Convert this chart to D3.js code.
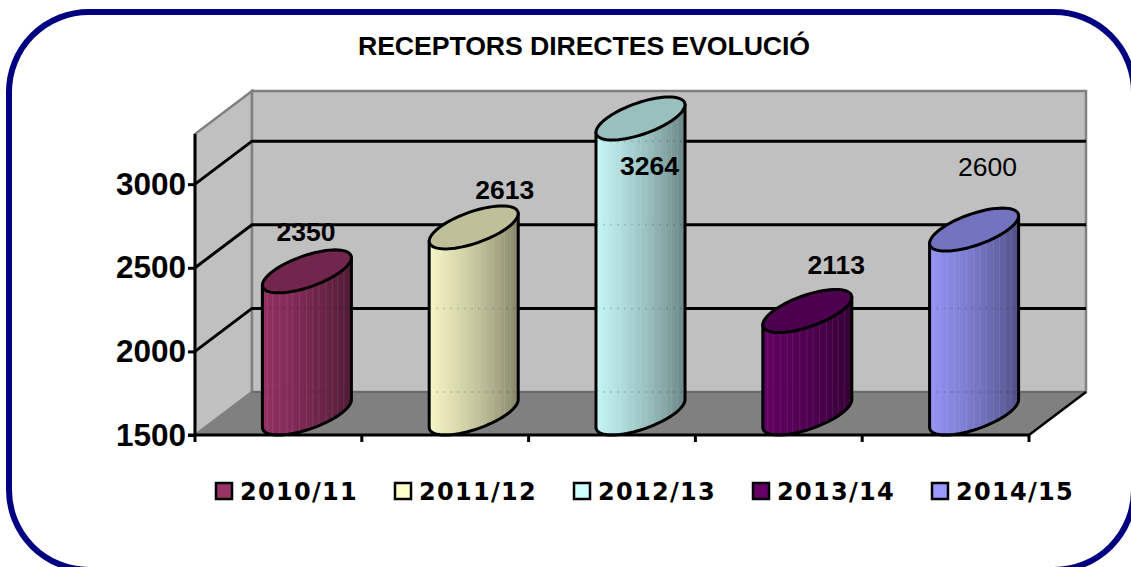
<!DOCTYPE html>
<html>
<head>
<meta charset="utf-8">
<style>
    html, body { margin: 0; padding: 0; background: #fff; overflow: hidden; }
    text { font-family: "Liberation Sans", Arial, sans-serif; fill: #000; }
</style>
</head>
<body>
<script src="https://d3js.org/d3.v7.min.js"></script>
<script>

    var seasons = ["2010/11", "2011/12", "2012/13", "2013/14", "2014/15"];
    var receptors = [2350, 2613, 3264, 2113, 2600];
    var yTicks = [1500, 2000, 2500, 3000];
    var barColors = ["#993366", "#ffffcc", "#ccffff", "#660066", "#9999ff"];

    // the labels were placed by hand in the original, so they don't follow the bars
    var labelShift = [[-1, -9], [31, -6.5], [9, 77.5], [29, -15], [13.5, -32.5]];
    var labelWeight = ["bold", "bold", "bold", "bold", "normal"];

    var width = 1131,
        height = 567,
        baseY = 435,
        depthX = 57,
        depthY = -43;

    var svg = d3.select("body").append("svg")
        .attr("width", width)
        .attr("height", height)
        .style("display", "block");

    var x = d3.scaleBand().domain(seasons).range([195, 1029]).paddingInner(0.59).paddingOuter(0.295);
    var y = d3.scaleLinear().domain([1500, 3300]).range([baseY, 134]);
    var xEdge = d3.scaleLinear().domain([0, seasons.length]).range([195, 1029]);

    // outer frame, runs off the right and bottom of the picture
    svg.append("rect")
        .attr("x", 9).attr("y", 12)
        .attr("width", 1125).attr("height", 558)
        .attr("rx", 80)
        .attr("fill", "#fff")
        .attr("stroke", "#000080")
        .attr("stroke-width", 6);

    svg.append("text")
        .attr("x", 584).attr("y", 55)
        .attr("text-anchor", "middle")
        .style("font-weight", "bold")
        .style("font-size", "26.7px")
        .style("letter-spacing", "-0.1px")
        .text("RECEPTORS DIRECTES EVOLUCIÓ");

    // walls and floor
    var left = 195, right = 1029, top3d = y.range()[1];
    function poly(pts) { return "M" + pts.map(function (p) { return p.join(","); }).join("L") + "Z"; }

    svg.append("path")
        .attr("d", poly([[left, baseY], [left, top3d], [left + depthX, top3d + depthY], [left + depthX, baseY + depthY]]))
        .attr("fill", "#c0c0c0").attr("stroke", "#808080").attr("stroke-width", 2.5);
    svg.append("path")
        .attr("d", poly([[left + depthX, baseY + depthY], [left + depthX, top3d + depthY], [right + depthX, top3d + depthY], [right + depthX, baseY + depthY]]))
        .attr("fill", "#c0c0c0").attr("stroke", "#808080").attr("stroke-width", 2.5);
    svg.append("path")
        .attr("d", poly([[left, baseY], [left + depthX, baseY + depthY], [right + depthX, baseY + depthY], [right, baseY]]))
        .attr("fill", "#808080");
    svg.append("line")
        .attr("x1", left + depthX).attr("y1", baseY + depthY)
        .attr("x2", right + depthX).attr("y2", baseY + depthY)
        .attr("stroke", "#6a6a6a").attr("stroke-width", 2);
    svg.append("line")
        .attr("x1", right).attr("y1", baseY)
        .attr("x2", right + depthX).attr("y2", baseY + depthY)
        .attr("stroke", "#000").attr("stroke-width", 2.5);

    // gridlines go along the side wall and then the back wall
    svg.append("g").selectAll("path")
        .data(yTicks.slice(1))
        .join("path")
        .attr("d", function (d) {
            return "M" + left + "," + y(d) + "L" + (left + depthX) + "," + (y(d) + depthY) + "H" + (right + depthX);
        })
        .attr("fill", "none")
        .attr("stroke", "#000")
        .attr("stroke-width", 3);

    // bars
    var defs = svg.append("defs");
    var shade = function (color, k) {
        return d3.interpolateRgb(color, "#000")(k);
    };
    var shadeStops = [[0, 0.02], [0.06, 0.06], [0.3, 0.14], [0.55, 0.24], [0.8, 0.36], [1, 0.48]];
    var streaks = [0.05, 0.11, 0.19, 0.27, 0.33, 0.41, 0.49, 0.56, 0.63, 0.71, 0.78, 0.84, 0.91];

    function ellipsePoint(cx, cy, w, t) {
        return [cx + w / 2 * Math.cos(t) + depthX / 2 * Math.sin(t),
                cy + depthY / 2 * Math.sin(t)];
    }

    seasons.forEach(function (s, i) {
        var w = x.bandwidth();
        var cx = x(s) + w / 2 + depthX / 2;
        var topY = y(receptors[i]) + depthY / 2;
        var botY = y(1500) + depthY / 2;
        var tExt = Math.atan2(depthX, w);  // where the ellipse is widest
        var halfW = Math.sqrt(w * w + depthX * depthX) / 2;

        var grad = defs.append("linearGradient")
            .attr("id", "bar" + i)
            .attr("gradientUnits", "userSpaceOnUse")
            .attr("x1", cx - halfW).attr("x2", cx + halfW)
            .attr("y1", 0).attr("y2", 0);
        shadeStops.forEach(function (st) {
            grad.append("stop").attr("offset", st[0]).attr("stop-color", shade(barColors[i], st[1]));
        });

        var n = 40;
        var front = d3.range(n + 1).map(function (k) {
            // lower half of the base ellipse, going from right to left
            return ellipsePoint(cx, botY, w, tExt - Math.PI * k / n);
        });
        var topEdge = ellipsePoint(cx, topY, w, tExt);
        var topEdgeL = ellipsePoint(cx, topY, w, tExt + Math.PI);

        var body = "M" + topEdge.join(",") +
            "L" + front.map(function (p) { return p.join(","); }).join("L") +
            "L" + topEdgeL.join(",") + "Z";

        defs.append("clipPath").attr("id", "clip" + i).append("path").attr("d", body);

        var g = svg.append("g");
        g.append("path").attr("d", body).attr("fill", "url(#bar" + i + ")");

        // thin vertical banding of the old renderer
        g.append("g").attr("clip-path", "url(#clip" + i + ")")
            .selectAll("rect").data(streaks).join("rect")
            .attr("x", function (d) { return cx - halfW + d * 2 * halfW; })
            .attr("y", topEdge[1])
            .attr("width", 1)
            .attr("height", y(1500) - topEdge[1])
            .attr("fill", "#fff")
            .attr("opacity", 0.09);

        // faint traces of the gridlines and floor edge inside the bar
        g.append("g").attr("clip-path", "url(#clip" + i + ")")
            .selectAll("line").data(yTicks)
            .join("line")
            .attr("x1", cx - halfW).attr("x2", cx + halfW)
            .attr("y1", function (d) { return y(d) + depthY; })
            .attr("y2", function (d) { return y(d) + depthY; })
            .attr("stroke", "#000")
            .attr("stroke-width", 2)
            .attr("stroke-dasharray", "2 5")
            .attr("opacity", 0.12);

        g.append("path").attr("d", body)
            .attr("fill", "none").attr("stroke", "#000").attr("stroke-width", 3).attr("stroke-linejoin", "round");

        var ring = d3.range(73).map(function (k) { return ellipsePoint(cx, topY, w, k / 72 * 2 * Math.PI); });
        g.append("path")
            .attr("d", d3.line()(ring) + "Z")
            .attr("fill", shade(barColors[i], 0.25))
            .attr("stroke", "#000").attr("stroke-width", 3);
    });

    // axes
    var yAxis = d3.axisLeft(y).tickValues(yTicks).tickSize(7).tickPadding(2).tickFormat(d3.format("d"));
    var gy = svg.append("g").attr("transform", "translate(" + left + ",0)").call(yAxis);
    gy.selectAll(".domain").attr("stroke", "#000").attr("stroke-width", 3).attr("d", "M0," + top3d + "V" + baseY);
    gy.selectAll("line").attr("stroke-width", 3);
    gy.selectAll("text")
        .style("font-family", '"Liberation Sans", Arial, sans-serif')
        .style("font-weight", "bold")
        .style("font-size", "31.5px")
        .attr("fill", "#000");

    svg.append("line")
        .attr("x1", left - 7).attr("y1", baseY)
        .attr("x2", right).attr("y2", baseY)
        .attr("stroke", "#000").attr("stroke-width", 3);
    svg.append("g").selectAll("line")
        .data(d3.range(seasons.length + 1))
        .join("line")
        .attr("x1", function (d) { return xEdge(d); })
        .attr("x2", function (d) { return xEdge(d); })
        .attr("y1", baseY)
        .attr("y2", baseY + 7)
        .attr("stroke", "#000").attr("stroke-width", 3);

    // value labels
    svg.append("g").selectAll("text")
        .data(receptors)
        .join("text")
        .attr("x", function (d, i) { return x(seasons[i]) + x.bandwidth() / 2 + depthX / 2 + labelShift[i][0]; })
        .attr("y", function (d, i) { return y(d) + depthY + labelShift[i][1]; })
        .attr("text-anchor", "middle")
        .style("font-size", "26.5px")
        .style("font-weight", function (d, i) { return labelWeight[i]; })
        .text(function (d) { return d; });

    // legend
    var legendX = d3.scalePoint().domain(seasons).range([216, 932]);
    var legend = svg.append("g").selectAll("g")
        .data(seasons)
        .join("g")
        .attr("transform", function (d) { return "translate(" + legendX(d) + ",483)"; });
    legend.append("rect")
        .attr("width", 16).attr("height", 16)
        .attr("fill", function (d, i) { return barColors[i]; })
        .attr("stroke", "#000").attr("stroke-width", 2.5);
    legend.append("text")
        .attr("x", 24).attr("y", 17)
        .style("font-family", '"DejaVu Sans", Verdana, sans-serif')
        .style("font-weight", "bold")
        .style("font-size", "24px")
        .style("letter-spacing", "1.3px")
        .text(function (d) { return d; });

</script>
</body>
</html>
